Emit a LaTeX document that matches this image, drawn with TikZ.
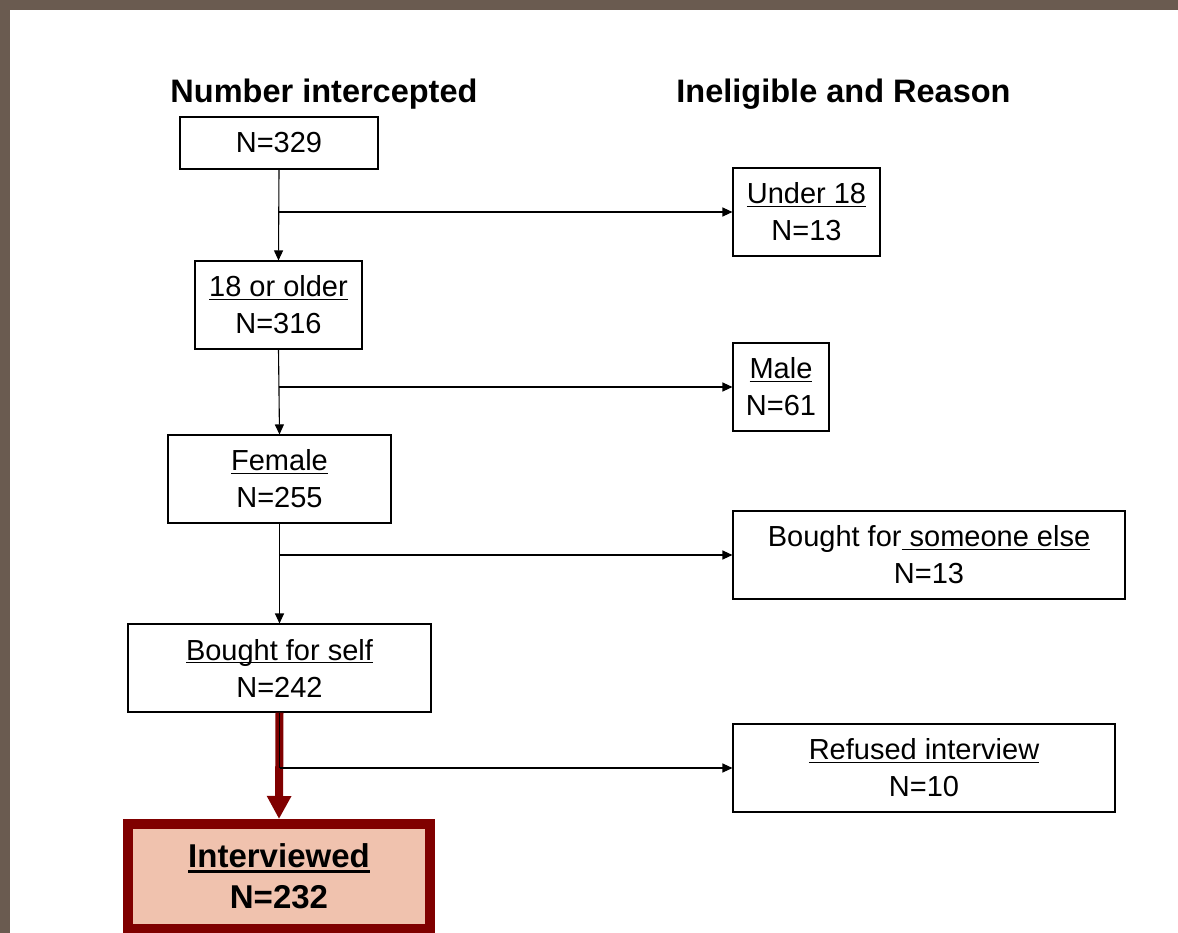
\documentclass[tikz,border=0pt]{standalone}
\usepackage{fontspec}
\setmainfont{Liberation Sans}
\usepackage{xcolor}
\usepackage{tikz}
\usetikzlibrary{positioning}
\usetikzlibrary{arrows.meta}

\definecolor{framebrown}{RGB}{106,91,80}
\definecolor{darkred}{RGB}{128,0,0}
\definecolor{salmon}{RGB}{240,194,174}

\newsavebox{\ulbox}
\newcommand{\ulined}[2][1.3pt]{\sbox{\ulbox}{#2}\rlap{\rule[\dimexpr-2pt-#1\relax]{\wd\ulbox}{#1}}\usebox{\ulbox}}

\begin{document}
\begin{tikzpicture}[x=1pt, y=-1pt,
box/.style={rectangle, draw=black, line width=1.1pt, fill=white, align=center, inner sep=0pt, font=\fontsize{29}{37}\selectfont},
header/.style={anchor=base, font=\fontsize{32.5}{39}\selectfont\bfseries},
final/.style={rectangle, draw=darkred, line width=10pt, fill=salmon, align=center, inner sep=0pt, font=\fontsize{33}{41}\selectfont\bfseries},
flow/.style={line width=1.1pt, -{Triangle[length=10pt, width=9pt]}},
]
\clip (0,0) rectangle (1178,933);
\fill[white] (0,0) rectangle (1178,933);
\fill[framebrown] (0,0) rectangle (1178,10);
\fill[framebrown] (0,0) rectangle (10,933);
%Headers
\node[header] (hdrleft)  at (324,103)   {Number intercepted};
\node[header] (hdrright) at (843.5,103) {Ineligible and Reason};
%Nodes
\node[box, minimum width=198pt, minimum height=52pt] (total)   at (279,143)   {\raisebox{-2pt}{N=329}};
\node[box, minimum width=147pt, minimum height=88pt] (under18) at (806.5,212) {\ulined{Under 18}\\N=13};
\node[box, minimum width=167pt, minimum height=88pt] (adult)   at (278.5,305) {\ulined{18 or older}\\N=316};
\node[box, minimum width=96pt,  minimum height=88pt] (male)    at (781,387)   {\ulined{Male}\\N=61};
\node[box, minimum width=223pt, minimum height=88pt] (female)  at (279.5,479) {\ulined{Female}\\N=255};
\node[box, minimum width=392pt, minimum height=88pt] (other)   at (929,555)   {Bought for\ulined{ someone else}\\N=13};
\node[box, minimum width=303pt, minimum height=88pt] (self)    at (279.5,668) {\ulined{Bought for self}\\N=242};
\node[box, minimum width=382pt, minimum height=88pt] (refused) at (924,768)   {\ulined{Refused interview}\\N=10};
\node[final, minimum width=302pt, minimum height=105pt] (interviewed) at (279,876.5) {\ulined[3pt]{Interviewed}\\N=232};
%Lines
\coordinate (b1) at (total.south  |- under18.west);
\coordinate (b2) at (adult.south  |- male.west);
\coordinate (b3) at (female.south |- other.west);
\coordinate (b4) at (self.south   |- refused.west);
\draw[flow] (total.south) -- (adult.north);
\draw[flow] (b1) -- (under18.west);
\draw[flow] (adult.south) -- (female.north);
\draw[flow] (b2) -- (male.west);
\draw[flow] (female.south) -- (self.north);
\draw[flow] (b3) -- (other.west);
\draw[darkred, line width=8pt, -{Triangle[length=23pt, width=23pt]}] (self.south) -- (interviewed.north);
\draw[line width=1.1pt] (self.south) -- (b4);
\draw[flow] (b4) -- (refused.west);
\end{tikzpicture}
\end{document}
